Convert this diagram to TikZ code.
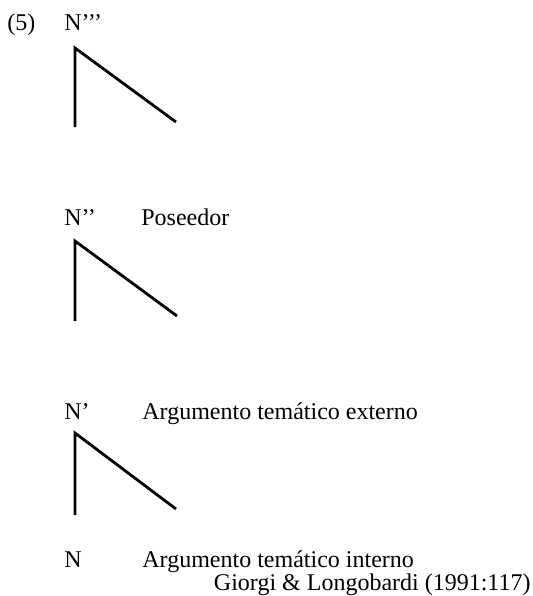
\documentclass[tikz,border=0pt]{standalone}
\usepackage{fontspec}
\setmainfont{Liberation Serif}
\usepackage{tikz}

\begin{document}
\begin{tikzpicture}[
  x=0.5pt, y=-0.5pt,
  every node/.style={font=\fontsize{12}{14}\selectfont, inner sep=0pt, anchor=base west},
  branch/.style={line width=1.4pt, line cap=butt, line join=miter},
]
\useasboundingbox (0,0) rectangle (533,596);

% Example number and top label
\node (num) at (7,30) {(5)};
\node (n3) at (64,30) {N’’’};

% Tree 1
\coordinate (t1) at (75,48);
\coordinate (l1) at (75,127);
\coordinate (r1) at (176,122);
\draw[branch] (l1) -- (t1) -- (r1);

% Row 2: N''
\node (n2) at (64,225) {N’’};
\node (pos) at (141,225) {Poseedor};

% Tree 2
\coordinate (t2) at (75,241);
\coordinate (l2) at (75,321);
\coordinate (r2) at (177,316);
\draw[branch] (l2) -- (t2) -- (r2);

% Row 3: N'
\node (n1) at (64,419) {N’};
\node (ext) at (142,419) {Argumento temático externo};

% Tree 3
\coordinate (t3) at (75,433);
\coordinate (l3) at (75,515);
\coordinate (r3) at (176,509);
\draw[branch] (l3) -- (t3) -- (r3);

% Row 4: N and source
\node (n0) at (64,567) {N};
\node (int) at (142,567) {Argumento temático interno};
\node (src) [anchor=base east] at (531,590) {Giorgi \& Longobardi (1991:117)};

\end{tikzpicture}
\end{document}
